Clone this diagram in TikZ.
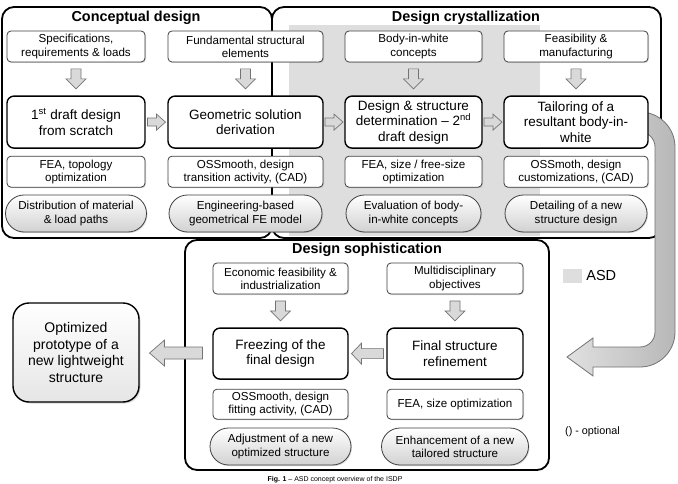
\documentclass[tikz,border=0pt]{standalone}
\usepackage{fontspec}
\setmainfont{Liberation Sans}
\usetikzlibrary{positioning,calc,shapes.misc,shadows}
\newcommand{\fsm}{\fontsize{11.6}{13.2}\selectfont}
\newcommand{\fmd}{\fontsize{13.5}{15.5}\selectfont}
\newcommand{\fhd}{\fontsize{14.4}{16}\selectfont\bfseries}
\colorlet{asdgray}{black!13}
\tikzset{
  stage/.style={draw=black, line width=1.8pt, rounded corners=12pt, fill=white},
  hd/.style={font=\fhd, inner sep=1pt},
  inbox/.style={draw=black!75, line width=0.8pt, rounded corners=4pt, fill=white, align=center, font=\fsm, inner sep=1pt, minimum height=31pt, minimum width=#1, drop shadow={shadow xshift=1pt, shadow yshift=-1pt, opacity=0.3}},
  mainbox/.style={draw=black, line width=1.4pt, rounded corners=7pt, fill=white, align=center, font=\fmd, inner sep=2pt, minimum height=52pt, minimum width=#1},
  pill/.style={rounded rectangle, draw=black!75, line width=0.8pt, top color=white, bottom color=black!18, align=center, font=\fsm, inner sep=1pt, minimum height=37pt, minimum width=#1, drop shadow={shadow xshift=1pt, shadow yshift=-1pt, opacity=0.3}},
  finbox/.style={draw=black, line width=1.4pt, rounded corners=16pt, top color=white, bottom color=black!10, align=center, font=\fontsize{14}{16.7}\selectfont, minimum width=126pt, minimum height=99pt, drop shadow={shadow xshift=1.5pt, shadow yshift=-1.5pt, opacity=0.3}},
  blk/.style={draw=black!55, line width=0.7pt, fill=black!15},
  downarr/.pic={\draw[blk] (-5,-10) -- (5,-10) -- (5,0) -- (10,0) -- (0,10) -- (-10,0) -- (-5,0) -- cycle;},
  rightarr/.pic={\draw[blk] (-9,-4) -- (0,-4) -- (0,-8) -- (9,0) -- (0,8) -- (0,4) -- (-9,4) -- cycle;},
  leftarr/.pic={\draw[blk] (16,-5) -- (-6,-5) -- (-6,-10.5) -- (-16,0) -- (-6,10.5) -- (-6,5) -- (16,5) -- cycle;},
  bigleftarr/.pic={\draw[blk] (26.5,-6) -- (-11.5,-6) -- (-11.5,-13) -- (-26.5,0) -- (-11.5,13) -- (-11.5,6) -- (26.5,6) -- cycle;}
}

\begin{document}
\begin{tikzpicture}[x=1pt, y=-1pt]
\useasboundingbox (0,0) rectangle (678,484);

% the three stages
\draw[stage] (2,7) rectangle (272,238);
\draw[stage] (272,7) rectangle (661,238);
\fill[asdgray] (289,25) rectangle (540,236);
\draw[stage] (185,240) rectangle (549,470);

% return arrow to the sophistication stage
\coordinate (bendtip) at (567,357);
\draw[draw=black!55, line width=0.8pt, left color=black!12, right color=black!28]
  (600,112) -- (640,112) .. controls (659.3,112) and (675,127.7) .. (675,147)
  -- (675,332) .. controls (675,351.3) and (659.3,367) .. (640,367)
  -- (593,367) -- (593,376) -- (bendtip) -- (593,338) -- (593,347)
  -- (640,347) .. controls (648.3,347) and (655,340.3) .. (655,332)
  -- (655,147) .. controls (655,138.7) and (648.3,132) .. (640,132)
  -- (600,132) -- cycle;

\node[hd] (hcon) at (136,18) {Conceptual design};
\node[hd] (hcry) at (466,18) {Design crystallization};
\node[hd] (hsop) at (367,250) {Design sophistication};

% conceptual design
\node[inbox=138pt] (spec) at (76,46.5) {Specifications,\\requirements \& loads};
\node[mainbox=138pt, below=33pt of spec] (d1) {1\textsuperscript{st} draft design\\from scratch};
\node[inbox=138pt, below=7pt of d1] (m1) {FEA, topology\\optimization};
\node[pill=143pt, below=7pt of m1] (r1) {Distribution of material\\\& load paths};

\node[inbox=155pt] (fund) at (245.5,46.5) {Fundamental structural\\elements};
\node[mainbox=155pt, below=33pt of fund] (d2) {Geometric solution\\derivation};
\node[inbox=155pt, below=7pt of d2] (m2) {OSSmooth, design\\transition activity, (CAD)};
\node[pill=155pt, below=7pt of m2] (r2) {Engineering-based\\geometrical FE model};

% design crystallization
\node[inbox=137pt] (bw) at (413.5,46.5) {Body-in-white\\concepts};
\node[mainbox=137pt, below=33pt of bw] (d3) {Design \& structure\\determination -- 2\textsuperscript{nd}\\draft design};
\node[inbox=137pt, below=7pt of d3] (m3) {FEA, size / free-size\\optimization};
\node[pill=137pt, below=7pt of m3] (r3) {Evaluation of body-\\in-white concepts};

\node[inbox=144pt] (feas) at (576,46.5) {Feasibility \&\\manufacturing};
\node[mainbox=144pt, below=33pt of feas] (d4) {Tailoring of a\\resultant body-in-\\white};
\node[inbox=144pt, below=7pt of d4] (m4) {OSSmoth, design\\customizations, (CAD)};
\node[pill=144pt, below=7pt of m4] (r4) {Detailing of a new\\structure design};

% design sophistication
\node[inbox=135pt] (econ) at (280.5,278.5) {Economic feasibility \&\\industrialization};
\node[mainbox=135pt, minimum height=51pt, below=33pt of econ] (freeze) {Freezing of the\\final design};
\node[inbox=135pt, minimum height=30pt, below=9pt of freeze] (mfr) {OSSmooth, design\\fitting activity, (CAD)};
\node[pill=143pt, below=8pt of mfr] (radj) {Adjustment of a new\\optimized structure};

\node[inbox=136pt] (multi) at (455,278.5) {Multidisciplinary\\objectives};
\node[mainbox=136pt, minimum height=51pt, below=33pt of multi] (refine) {Final structure\\refinement};
\node[inbox=136pt, minimum height=30pt, below=9pt of refine] (mref) {FEA, size optimization};
\node[pill=149pt, below=8pt of mref] (renh) {Enhancement of a new\\tailored structure};

\node[finbox] (optim) at (76,352.5) {Optimized\\prototype of a\\new lightweight\\structure};

% block arrows
\pic at ($(spec.south)!0.5!(d1.north)$) {downarr};
\pic at ($(fund.south)!0.5!(d2.north)$) {downarr};
\pic at ($(bw.south)!0.5!(d3.north)$) {downarr};
\pic at ($(feas.south)!0.5!(d4.north)$) {downarr};
\pic at ($(econ.south)!0.5!(freeze.north)$) {downarr};
\pic at ($(multi.south)!0.5!(refine.north)$) {downarr};
\pic at ($(d1.east)!0.5!(d2.west)$) {rightarr};
\pic at ($(d2.east)!0.5!(d3.west)$) {rightarr};
\pic at ($(d3.east)!0.5!(d4.west)$) {rightarr};
\pic at ($(refine.west)!0.5!(freeze.east)$) {leftarr};
\pic at ($(freeze.west)!0.5!(optim.east)$) {bigleftarr};

% legend
\node[fill=asdgray, minimum width=19pt, minimum height=14pt, inner sep=0pt] (lgd) at (572.5,275.5) {};
\node[right=4pt of lgd, font=\fontsize{14.5}{16}\selectfont, inner sep=0pt] (lasd) {ASD};
\node[font=\fontsize{10.8}{12}\selectfont, inner sep=0pt] (opt) at (592.5,432) {() - optional};

\node[font=\fontsize{7}{8}\selectfont, anchor=base, inner sep=0pt] (cap) at (335,481.5) {\textbf{Fig. 1} -- ASD concept overview of the ISDP};
\end{tikzpicture}
\end{document}
